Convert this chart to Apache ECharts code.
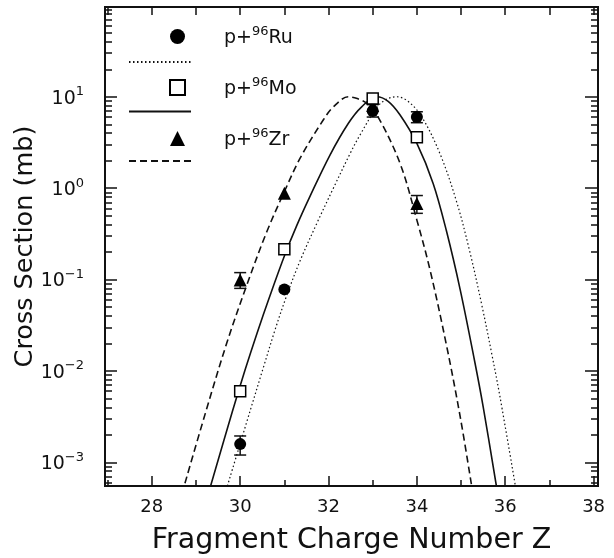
<!DOCTYPE html>
<html>
<head>
<meta charset="utf-8">
<script src="https://cdn.jsdelivr.net/npm/echarts@6/dist/echarts.min.js"></script>
<style>
  html, body { margin: 0; padding: 0; background: #fff; }
  #chart { width: 614px; height: 558px; }
</style>
</head>
<body>
<div id="chart"></div>
<script>
// measured cross sections (mb) vs fragment charge Z
const ruZ = [30, 31, 33, 34];
const ruV = [1.58e-3, 0.078, 7.0, 6.0];
const moZ = [30, 31, 33, 34];
const moV = [6.0e-3, 0.215, 9.6, 3.6];
const zrZ = [30, 31, 33, 34];
const zrV = [0.099, 0.88, 8.0, 0.68];

// error bars: [Z, low, high]
const ruErr = [[30, 1.2e-3, 1.94e-3], [33, 6.0, 8.2], [34, 5.2, 6.85]];
const zrErr = [[30, 0.080, 0.119], [34, 0.53, 0.83]];

// fit curves
const ruFitZ = [29.71, 30.23, 30.52, 30.79, 31.05, 31.36, 31.75, 32.11, 32.49, 32.71, 33.09, 33.30, 33.54, 33.80, 34.11, 34.52, 34.90, 35.20, 35.47, 35.69, 35.88, 36.23];
const ruFitV = [5.5e-4, 3.72e-3, 0.0107, 0.0282, 0.0661, 0.162, 0.427, 1.0, 2.40, 3.80, 7.59, 9.33, 10.0, 8.91, 6.03, 2.40, 0.708, 0.200, 0.0525, 0.0158, 5.25e-3, 5.5e-4];
const moFitZ = [29.33, 29.82, 30.11, 30.38, 30.68, 31.02, 31.28, 31.58, 32.03, 32.45, 32.75, 33.09, 33.35, 33.62, 34.00, 34.37, 34.67, 34.98, 35.31, 35.50, 35.80];
const moFitV = [5.5e-4, 3.55e-3, 0.0102, 0.0257, 0.0676, 0.191, 0.389, 0.813, 2.29, 5.13, 7.76, 10.0, 8.91, 6.31, 3.09, 1.12, 0.339, 0.0776, 0.0126, 4.07e-3, 5.5e-4];
const zrFitZ = [28.75, 29.22, 29.70, 30.15, 30.60, 30.98, 31.36, 31.88, 32.11, 32.45, 32.65, 32.86, 33.12, 33.62, 34.00, 34.30, 34.67, 34.98, 35.24];
const zrFitV = [5.89e-4, 3.55e-3, 0.0204, 0.0871, 0.331, 0.871, 2.14, 5.56, 7.76, 10.0, 9.55, 8.51, 6.03, 1.86, 0.447, 0.126, 0.0191, 3.16e-3, 5.5e-4];

// ticks
const xLabelTicks = [28, 30, 32, 34, 36, 38];
const xOddTicks = [27, 29, 31, 33, 35, 37];
const xAllTicks = [27, 28, 29, 30, 31, 32, 33, 34, 35, 36, 37, 38];
const yDecades = [1e-3, 1e-2, 1e-1, 1, 10];
const yMinorTicks = [];
[1e-4, 1e-3, 1e-2, 1e-1, 1, 10].forEach(d => {
  for (let k = 2; k <= 9; k++) yMinorTicks.push(+(k * d).toPrecision(3));
});

const X_MIN = 26.94, X_MAX = 38.1;
const Y_MIN = 5.5e-4, Y_MAX = 96;
const FONT = 'DejaVu Sans';
const INK = '#111';
const MARK = '#000';

const zip = (a, b) => a.map((v, i) => [v, b[i]]);

function xAxis(position, ticks, len, labels) {
  return {
    type: 'value', position, min: X_MIN, max: X_MAX,
    axisLine: { show: true, onZero: false, lineStyle: { color: INK, width: 2 } },
    axisTick: { show: true, inside: true, length: len, customValues: ticks, lineStyle: { color: INK, width: 1.5 } },
    axisLabel: labels
      ? { show: true, customValues: labels, margin: 12, color: INK, fontSize: 18, fontFamily: FONT }
      : { show: false },
    splitLine: { show: false },
  };
}

function yAxis(position, ticks, len, labels) {
  return {
    type: 'log', position, min: Y_MIN, max: Y_MAX, logBase: 10,
    axisLine: { show: true, onZero: false, lineStyle: { color: INK, width: 2 } },
    axisTick: { show: true, inside: true, length: len, customValues: ticks, lineStyle: { color: INK, width: 1.5 } },
    axisLabel: labels
      ? {
          show: true, customValues: labels, margin: 21, color: INK,
          formatter: v => {
            const e = Math.round(Math.log10(v));
            return '{b|10}{s|' + (e < 0 ? '\u2212' + (-e) : e) + '}';
          },
          rich: {
            b: { fontSize: 19, fontFamily: FONT, color: INK, padding: [4, 0, 0, 0], verticalAlign: 'bottom' },
            s: { fontSize: 13, fontFamily: FONT, color: INK, verticalAlign: 'top' },
          },
        }
      : { show: false },
    splitLine: { show: false },
    minorTick: { show: false },
  };
}

function errBars(data) {
  return {
    type: 'custom', xAxisIndex: 0, yAxisIndex: 0, silent: true, z: 3,
    encode: { x: 0, y: [1, 2] },
    data,
    renderItem: (params, api) => {
      const z = api.value(0);
      const a = api.coord([z, api.value(1)]);
      const b = api.coord([z, api.value(2)]);
      const w = 6;
      const st = { stroke: INK, lineWidth: 1.5 };
      return {
        type: 'group',
        children: [
          { type: 'line', shape: { x1: a[0], y1: a[1], x2: b[0], y2: b[1] }, style: st },
          { type: 'line', shape: { x1: a[0] - w, y1: a[1], x2: a[0] + w, y2: a[1] }, style: st },
          { type: 'line', shape: { x1: b[0] - w, y1: b[1], x2: b[0] + w, y2: b[1] }, style: st },
        ],
      };
    },
  };
}

const chart = echarts.init(document.getElementById('chart'), null, { renderer: 'canvas' });

chart.setOption({
  backgroundColor: '#fff',
  animation: false,
  grid: { left: 105, right: 16, top: 7, bottom: 72, containLabel: false, outerBoundsMode: 'none' },
  xAxis: [
    Object.assign(xAxis('bottom', xLabelTicks, 10, xLabelTicks), {
      name: 'Fragment Charge Number Z', nameLocation: 'middle', nameGap: 40, nameMoveOverlap: false,
      nameTextStyle: { fontSize: 28.5, fontFamily: FONT, color: INK },
    }),
    xAxis('bottom', xOddTicks, 6, null),
    xAxis('top', xAllTicks, 8, null),
  ],
  yAxis: [
    Object.assign(yAxis('left', yDecades, 12, yDecades), {
      name: 'Cross Section (mb)', nameLocation: 'middle', nameGap: 67, nameRotate: 90, nameMoveOverlap: false,
      nameTextStyle: { fontSize: 25.5, fontFamily: FONT, color: INK },
    }),
    yAxis('left', yMinorTicks, 7, null),
    yAxis('right', yDecades, 13, null),
    yAxis('right', yMinorTicks, 7, null),
  ],
  legend: [
    {
      data: ['Ru', 'Mo', 'Zr'], orient: 'vertical', left: 169, top: 25, padding: 0,
      itemWidth: 15, itemHeight: 15, itemGap: 28, selectedMode: false,
      formatter: n => '{sp|}{t|p+}{u|96}{t|' + n + '}',
      textStyle: {
        color: INK,
        rich: {
          sp: { width: 34 },
          t: { fontSize: 19, fontFamily: FONT, color: INK, padding: [4, 0, 0, 0], verticalAlign: 'bottom' },
          u: { fontSize: 13, fontFamily: FONT, color: INK, verticalAlign: 'top' },
        },
      },
    },
    {
      data: ['fitRu', 'fitMo', 'fitZr'], orient: 'vertical', left: 128, top: 57, padding: 0,
      itemWidth: 62, itemHeight: 10, itemGap: 40.5, selectedMode: false,
      itemStyle: { opacity: 0 },
      formatter: () => '',
    },
  ],
  series: [
    {
      name: 'fitRu', type: 'line', smooth: 0.35, symbol: 'none', z: 2,
      data: zip(ruFitZ, ruFitV),
      itemStyle: { color: INK },
      lineStyle: { color: INK, width: 1.2, type: [1.5, 2.5] },
    },
    {
      name: 'fitMo', type: 'line', smooth: 0.35, symbol: 'none', z: 2,
      data: zip(moFitZ, moFitV),
      itemStyle: { color: INK },
      lineStyle: { color: INK, width: 1.6, type: 'solid' },
    },
    {
      name: 'fitZr', type: 'line', smooth: 0.35, symbol: 'none', z: 2,
      data: zip(zrFitZ, zrFitV),
      itemStyle: { color: INK },
      lineStyle: { color: INK, width: 1.6, type: [7, 4] },
    },
    errBars(ruErr),
    errBars(zrErr),
    {
      name: 'Zr', type: 'scatter', symbol: 'triangle', symbolSize: 13, z: 4,
      data: zip(zrZ, zrV), itemStyle: { color: MARK, opacity: 1 },
    },
    {
      name: 'Ru', type: 'scatter', symbol: 'circle', symbolSize: 12, z: 5,
      data: zip(ruZ, ruV), itemStyle: { color: MARK, opacity: 1 },
    },
    {
      name: 'Mo', type: 'scatter', symbol: 'rect', symbolSize: 11, z: 6,
      data: zip(moZ, moV), itemStyle: { color: '#fff', borderColor: MARK, borderWidth: 1.5, opacity: 1 },
    },
  ],
});
</script>
</body>
</html>
